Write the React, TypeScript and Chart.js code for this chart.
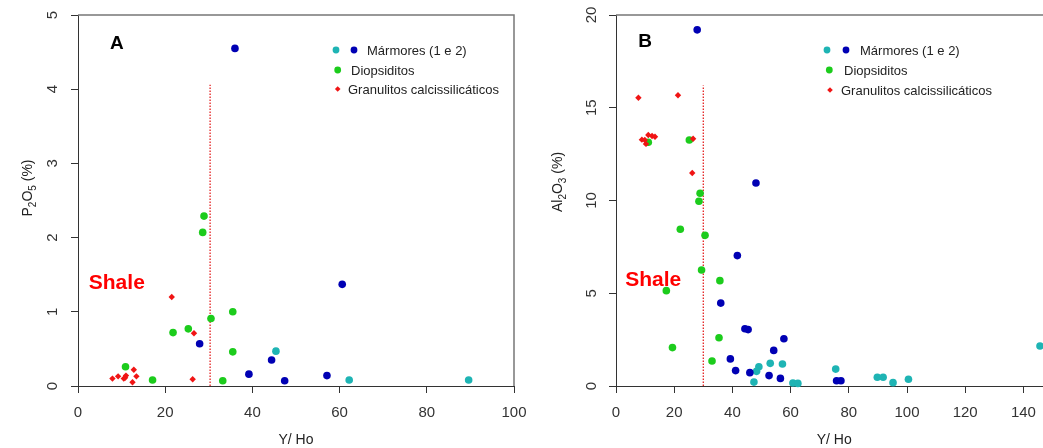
import React, { useEffect, useRef } from "react";
import { Chart, registerables } from "chart.js";

Chart.register(...registerables);

const FONT = '"Liberation Sans", Arial, Helvetica, sans-serif';

// ---------- Panel A : P2O5 (%) vs Y/Ho ----------
const aMarm1X = [45.4, 62.2, 89.6];
const aMarm1Y = [0.47, 0.08, 0.08];
const aMarm2X = [36.0, 60.6, 27.9, 44.4, 39.2, 47.4, 57.1];
const aMarm2Y = [4.55, 1.37, 0.57, 0.35, 0.16, 0.07, 0.14];
const aDiopX = [28.9, 28.6, 35.5, 30.5, 21.8, 25.3, 35.5, 10.9, 17.1, 33.2];
const aDiopY = [2.29, 2.07, 1.0, 0.91, 0.72, 0.77, 0.46, 0.26, 0.08, 0.07];
const aGranX = [21.5, 26.6, 7.9, 9.2, 10.5, 11.0, 12.8, 13.4, 12.5, 26.3, 10.8];
const aGranY = [1.2, 0.71, 0.1, 0.13, 0.1, 0.14, 0.22, 0.13, 0.05, 0.09, 0.11];
const aLineX = [30.3, 30.3];
const aLineY = [0, 4.06];
const aXTicks = [0, 20, 40, 60, 80, 100];
const aYTicks = [0, 1, 2, 3, 4, 5];

// ---------- Panel B : Al2O3 (%) vs Y/Ho ----------
const bMarm1X = [53.0, 57.2, 49.1, 48.3, 47.4, 60.8, 62.5, 75.5, 89.8, 91.8, 95.2, 100.5, 145.7];
const bMarm1Y = [1.22, 1.19, 1.04, 0.79, 0.21, 0.16, 0.14, 0.91, 0.47, 0.47, 0.18, 0.36, 2.16];
const bMarm2X = [27.9, 48.1, 41.7, 36.0, 44.3, 45.4, 57.7, 54.2, 39.3, 41.1, 46.0, 52.6, 56.5, 75.8, 77.3];
const bMarm2Y = [19.2, 10.94, 7.03, 4.47, 3.09, 3.04, 2.55, 1.92, 1.46, 0.83, 0.72, 0.56, 0.41, 0.28, 0.28];
const bDiopX = [11.1, 25.2, 28.9, 28.5, 22.1, 30.6, 29.4, 35.7, 17.3, 35.4, 19.4, 33.0];
const bDiopY = [13.14, 13.26, 10.39, 9.96, 8.45, 8.12, 6.25, 5.68, 5.14, 2.6, 2.07, 1.35];
const bGranX = [7.7, 21.3, 8.9, 9.9, 10.3, 11.1, 12.4, 13.4, 26.5, 26.2];
const bGranY = [15.54, 15.67, 13.28, 13.26, 13.05, 13.53, 13.48, 13.44, 13.33, 11.48];
const bLineX = [30.0, 30.0];
const bLineY = [0, 16.2];
const bXTicks = [0, 20, 40, 60, 80, 100, 120, 140];
const bYTicks = [0, 5, 10, 15, 20];

const legendLabels = ["Mármores (1 e 2)", "Diopsiditos", "Granulitos calcissilicáticos"];

const C_MARM1 = "#1eb4b4";
const C_MARM2 = "#0000b4";
const C_DIOP = "#1ccc1c";
const C_GRAN = "#f01414";

function zip(xs: number[], ys: number[]) {
  return xs.map((x, i) => ({ x, y: ys[i] }));
}

type Seg = [string, boolean];

interface Spec {
  xMin: number;
  xMax: number;
  yMax: number;
  xTicks: number[];
  yTicks: number[];
  yAxisWidth: number;
  padRight: number;
  yTickPadding: number;
  marm1: { x: number; y: number }[];
  marm2: { x: number; y: number }[];
  diop: { x: number; y: number }[];
  gran: { x: number; y: number }[];
  line: { x: number; y: number }[];
  letter: string;
  letterPos: [number, number];
  shalePos: [number, number];
  legend: { y: number; markers: [number, string, string][]; textX: number }[];
  yTitle: Seg[];
  yTitleCenter: number;
  yTitleBaseX: number;
  drawRight: boolean;
}

function makeExtras(spec: Spec) {
  return {
    id: "extras",
    afterDraw(chart: any) {
      const ctx = chart.ctx as CanvasRenderingContext2D;
      const { left, right, top, bottom } = chart.chartArea;
      const xs = chart.scales.x;
      const ys = chart.scales.y;
      ctx.save();
      // box (top / right)
      ctx.strokeStyle = "#777";
      ctx.lineWidth = 1.5;
      ctx.beginPath();
      ctx.moveTo(left, top);
      ctx.lineTo(right, top);
      if (spec.drawRight) ctx.lineTo(right, bottom);
      ctx.stroke();

      // panel letter
      ctx.fillStyle = "#000";
      ctx.font = `bold 19px ${FONT}`;
      ctx.textAlign = "center";
      ctx.textBaseline = "middle";
      ctx.fillText(spec.letter, xs.getPixelForValue(spec.letterPos[0]), ys.getPixelForValue(spec.letterPos[1]));

      // Shale
      ctx.fillStyle = "#ff0000";
      ctx.font = `bold 21px ${FONT}`;
      ctx.fillText("Shale", xs.getPixelForValue(spec.shalePos[0]), ys.getPixelForValue(spec.shalePos[1]));

      // legend
      ctx.textAlign = "left";
      ctx.font = `13px ${FONT}`;
      spec.legend.forEach((row, i) => {
        row.markers.forEach(([mx, color, shape]) => {
          ctx.fillStyle = color;
          ctx.beginPath();
          if (shape === "d") {
            const r = 2.8;
            ctx.moveTo(mx, row.y - r);
            ctx.lineTo(mx + r, row.y);
            ctx.lineTo(mx, row.y + r);
            ctx.lineTo(mx - r, row.y);
            ctx.closePath();
          } else {
            ctx.arc(mx, row.y, 3.4, 0, Math.PI * 2);
          }
          ctx.fill();
        });
        ctx.fillStyle = "#222";
        ctx.fillText(legendLabels[i], row.textX, row.y + 1);
      });

      // y title with subscripts
      ctx.save();
      ctx.translate(spec.yTitleBaseX, spec.yTitleCenter);
      ctx.rotate(-Math.PI / 2);
      ctx.fillStyle = "#222";
      ctx.textBaseline = "alphabetic";
      const big = `14px ${FONT}`;
      const small = `10px ${FONT}`;
      let total = 0;
      spec.yTitle.forEach(([t, sub]) => {
        ctx.font = sub ? small : big;
        total += ctx.measureText(t).width;
      });
      let cx = -total / 2;
      spec.yTitle.forEach(([t, sub]) => {
        ctx.font = sub ? small : big;
        ctx.fillText(t, cx, sub ? 4 : 0);
        cx += ctx.measureText(t).width;
      });
      ctx.restore();

      // x title
      ctx.fillStyle = "#222";
      ctx.font = `14px ${FONT}`;
      ctx.textAlign = "center";
      ctx.textBaseline = "middle";
      ctx.fillText("Y/ Ho", (xs.getPixelForValue(spec.xMin) + xs.getPixelForValue(spec.xMax)) / 2, 440);
      ctx.restore();
    },
  };
}

function buildChart(canvas: HTMLCanvasElement, spec: Spec) {
  const pt = (color: string, style: string, r: number, order: number) => ({
    backgroundColor: color,
    borderColor: color,
    pointBackgroundColor: color,
    pointBorderColor: color,
    pointBorderWidth: 0,
    pointRadius: r,
    pointStyle: style,
    clip: false as any,
    order,
  });
  return new Chart(canvas, {
    type: "scatter",
    data: {
      datasets: [
        { label: "Granulitos", data: spec.gran, ...pt(C_GRAN, "rectRot", 3.2, 0) },
        { label: "Diopsiditos", data: spec.diop, ...pt(C_DIOP, "circle", 3.8, 1) },
        { label: "Mármores 2", data: spec.marm2, ...pt(C_MARM2, "circle", 3.8, 2) },
        { label: "Mármores 1", data: spec.marm1, ...pt(C_MARM1, "circle", 3.8, 3) },
        {
          label: "limite",
          data: spec.line,
          showLine: true,
          borderColor: "#e42020",
          borderWidth: 1.3,
          borderDash: [1.5, 1.5],
          pointRadius: 0,
          order: 10,
        } as any,
      ],
    },
    options: {
      animation: false,
      responsive: false,
      maintainAspectRatio: false,
      layout: { padding: { top: 15, right: spec.padRight, left: 0, bottom: 0 } },
      plugins: { legend: { display: false }, tooltip: { enabled: false }, title: { display: false } },
      scales: {
        x: {
          type: "linear",
          min: spec.xMin,
          max: spec.xMax,
          afterBuildTicks: (s: any) => {
            s.ticks = spec.xTicks.map((v) => ({ value: v }));
          },
          ticks: {
            color: "#333",
            font: { family: FONT, size: 15 },
            padding: 11,
            maxRotation: 0,
            minRotation: 0,
            autoSkip: false,
          },
          grid: { display: true, drawOnChartArea: false, drawTicks: true, tickLength: 7, tickColor: "#333", tickWidth: 1 },
          border: { display: true, color: "#333", width: 1 },
          afterFit: (s: any) => {
            s.height = 62;
            s.paddingLeft = 0;
            s.paddingRight = 0;
          },
        },
        y: {
          type: "linear",
          min: 0,
          max: spec.yMax,
          afterBuildTicks: (s: any) => {
            s.ticks = spec.yTicks.map((v) => ({ value: v }));
          },
          ticks: {
            color: "#333",
            font: { family: FONT, size: 15 },
            padding: spec.yTickPadding,
            minRotation: 90,
            maxRotation: 90,
            crossAlign: "center",
            autoSkip: false,
          },
          grid: { display: true, drawOnChartArea: false, drawTicks: true, tickLength: 7, tickColor: "#333", tickWidth: 1 },
          border: { display: true, color: "#333", width: 1 },
          afterFit: (s: any) => {
            s.width = spec.yAxisWidth;
            s.paddingTop = 0;
            s.paddingBottom = 0;
          },
        },
      },
    } as any,
    plugins: [makeExtras(spec)],
  });
}

const specA: Spec = {
  xMin: 0,
  xMax: 100,
  yMax: 5,
  xTicks: aXTicks,
  yTicks: aYTicks,
  yAxisWidth: 78,
  padRight: 16,
  yTickPadding: 14,
  marm1: zip(aMarm1X, aMarm1Y),
  marm2: zip(aMarm2X, aMarm2Y),
  diop: zip(aDiopX, aDiopY),
  gran: zip(aGranX, aGranY),
  line: zip(aLineX, aLineY),
  letter: "A",
  letterPos: [8.9, 4.61],
  shalePos: [8.9, 1.39],
  legend: [
    { y: 50, markers: [[336, C_MARM1, "c"], [354, C_MARM2, "c"]], textX: 367 },
    { y: 70, markers: [[337.7, C_DIOP, "c"]], textX: 351 },
    { y: 89, markers: [[337.7, C_GRAN, "d"]], textX: 348 },
  ],
  yTitle: [["P", false], ["2", true], ["O", false], ["5", true], [" (%)", false]],
  yTitleCenter: 188,
  yTitleBaseX: 32,
  drawRight: true,
};

const specB: Spec = {
  xMin: 0,
  xMax: 150,
  yMax: 20,
  xTicks: bXTicks,
  yTicks: bYTicks,
  yAxisWidth: 86,
  padRight: 17.5,
  yTickPadding: 9,
  marm1: zip(bMarm1X, bMarm1Y),
  marm2: zip(bMarm2X, bMarm2Y),
  diop: zip(bDiopX, bDiopY),
  gran: zip(bGranX, bGranY),
  line: zip(bLineX, bLineY),
  letter: "B",
  letterPos: [10, 18.55],
  shalePos: [12.8, 5.71],
  legend: [
    { y: 50, markers: [[297, C_MARM1, "c"], [316, C_MARM2, "c"]], textX: 330 },
    { y: 70, markers: [[299.3, C_DIOP, "c"]], textX: 314 },
    { y: 90, markers: [[300, C_GRAN, "d"]], textX: 311 },
  ],
  yTitle: [["Al", false], ["2", true], ["O", false], ["3", true], [" (%)", false]],
  yTitleCenter: 182,
  yTitleBaseX: 32,
  drawRight: true,
};

function Panel({ spec, left, width, canvasWidth }: { spec: Spec; left: number; width: number; canvasWidth: number }) {
  const ref = useRef<HTMLCanvasElement>(null);
  useEffect(() => {
    if (!ref.current) return;
    const chart = buildChart(ref.current, spec);
    return () => chart.destroy();
  }, [spec]);
  return (
    <div style={{ position: "absolute", left, top: 0, width, height: 448, overflow: "hidden" }}>
      <canvas ref={ref} width={canvasWidth} height={448} style={{ width: canvasWidth, height: 448, display: "block" }} />
    </div>
  );
}

export default function App() {
  return (
    <div style={{ position: "fixed", left: 0, top: 0, width: 1043, height: 448, background: "#fff", overflow: "hidden" }}>
      <Panel spec={specA} left={0} width={530} canvasWidth={530} />
      <Panel spec={specB} left={530} width={513} canvasWidth={540} />
    </div>
  );
}
